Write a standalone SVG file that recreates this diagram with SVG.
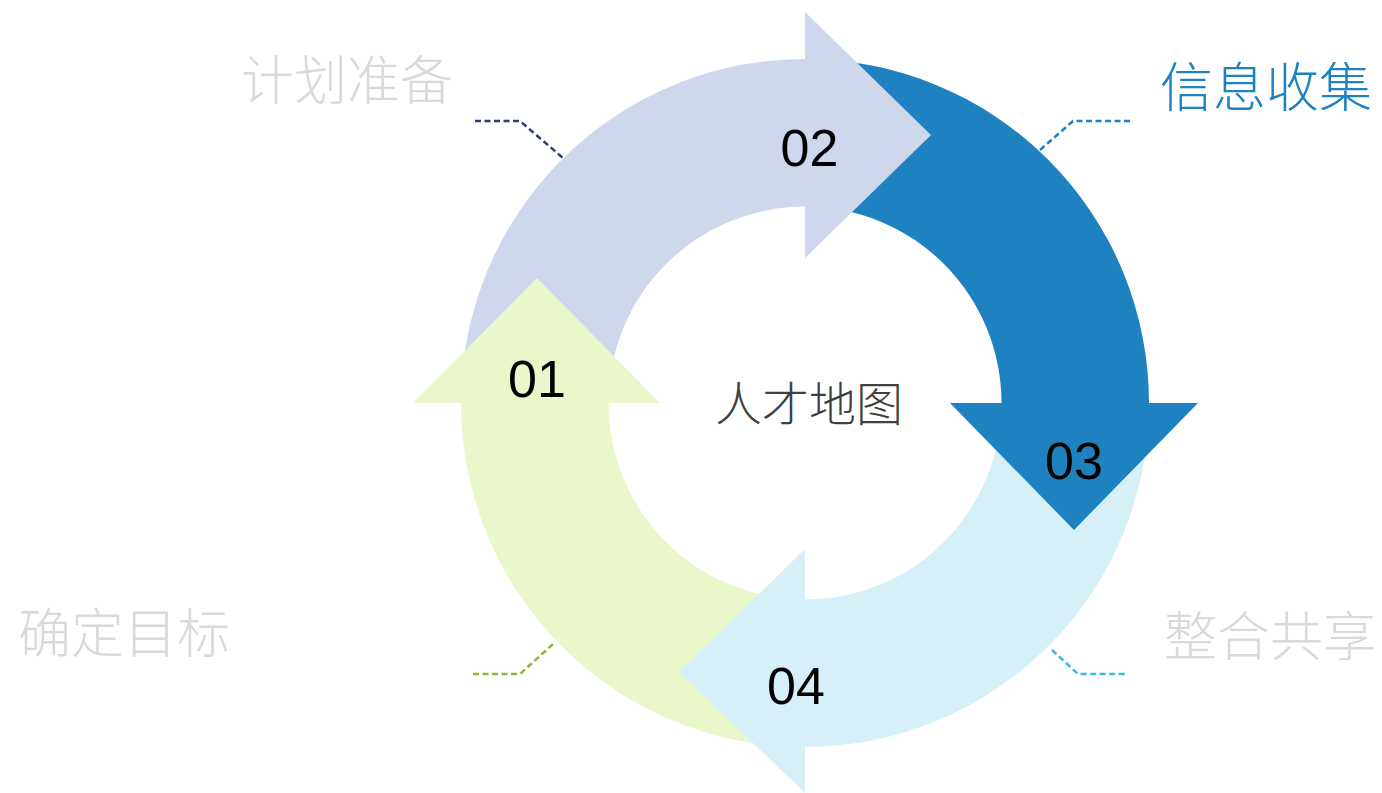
<svg xmlns="http://www.w3.org/2000/svg" width="1382" height="793" viewBox="0 0 1382 793">
<style>
.num{font-family:"Liberation Sans",Arial,sans-serif;font-size:52px;fill:#000;text-anchor:middle}
.lbl{font-family:"Noto Sans CJK SC","Noto Sans",sans-serif;font-size:53px;fill:#D9D9D9;font-weight:300}
.center{font-family:"Noto Sans CJK SC","Noto Sans",sans-serif;font-size:47px;fill:#404040;text-anchor:middle;font-weight:300}
.lead{fill:none;stroke-width:2.5;stroke-dasharray:6 3.5}
.c1{fill:#E9F7CB}.c2{fill:#CED7EC}.c3{fill:#1F82C0}.c4{fill:#D5F0F7}
</style>
<rect width="1382" height="793" fill="#fff"/>
<g id="ring">
<path id="band-01" class="c1" d="M805 747 A344 344 0 0 1 461 403 L608.5 403 A196.5 196.5 0 0 0 805 599.5 Z"/>
<path id="band-02" class="c2" d="M461 403 A344 344 0 0 1 805 59 L805 206.5 A196.5 196.5 0 0 0 608.5 403 Z"/>
<path id="band-03" class="c3" d="M805 59 A344 344 0 0 1 1149 403 L1001.5 403 A196.5 196.5 0 0 0 805 206.5 Z"/>
<path id="band-04" class="c4" d="M1149 403 A344 344 0 0 1 805 747 L805 599.5 A196.5 196.5 0 0 0 1001.5 403 Z"/>
</g>
<g id="connectors">
<path class="lead" stroke="#2E3E72" d="M475 121 H520 L563 158"/>
<path class="lead" stroke="#1F82C0" d="M1040 150 L1073 121 H1132"/>
<path class="lead" stroke="#8CB83A" d="M473 674 H520 L553 644"/>
<path class="lead" stroke="#3BBADF" d="M1052 650 L1078 674 H1127"/>
</g>
<g id="step-01">
<polygon class="c1" points="413,403 537,278 660,403"/>
<text class="num" x="537" y="397">01</text>
<text class="lbl" x="18" y="653">确定目标</text>
</g>
<g id="step-02">
<polygon class="c2" points="805,12 931,135 805,258"/>
<text class="num" x="809.5" y="166">02</text>
<text class="lbl" x="241" y="100">计划准备</text>
</g>
<g id="step-03">
<polygon class="c3" points="950,403 1074,530 1198,403"/>
<text class="num" x="1074" y="479">03</text>
<text class="lbl" x="1160" y="107" style="fill:#1F82C0">信息收集</text>
</g>
<g id="step-04">
<polygon class="c4" points="805,549 679,672 805,793"/>
<text class="num" x="796" y="704">04</text>
<text class="lbl" x="1164" y="656">整合共享</text>
</g>
<g id="center">
<text class="center" x="809" y="421">人才地图</text>
</g>
</svg>
